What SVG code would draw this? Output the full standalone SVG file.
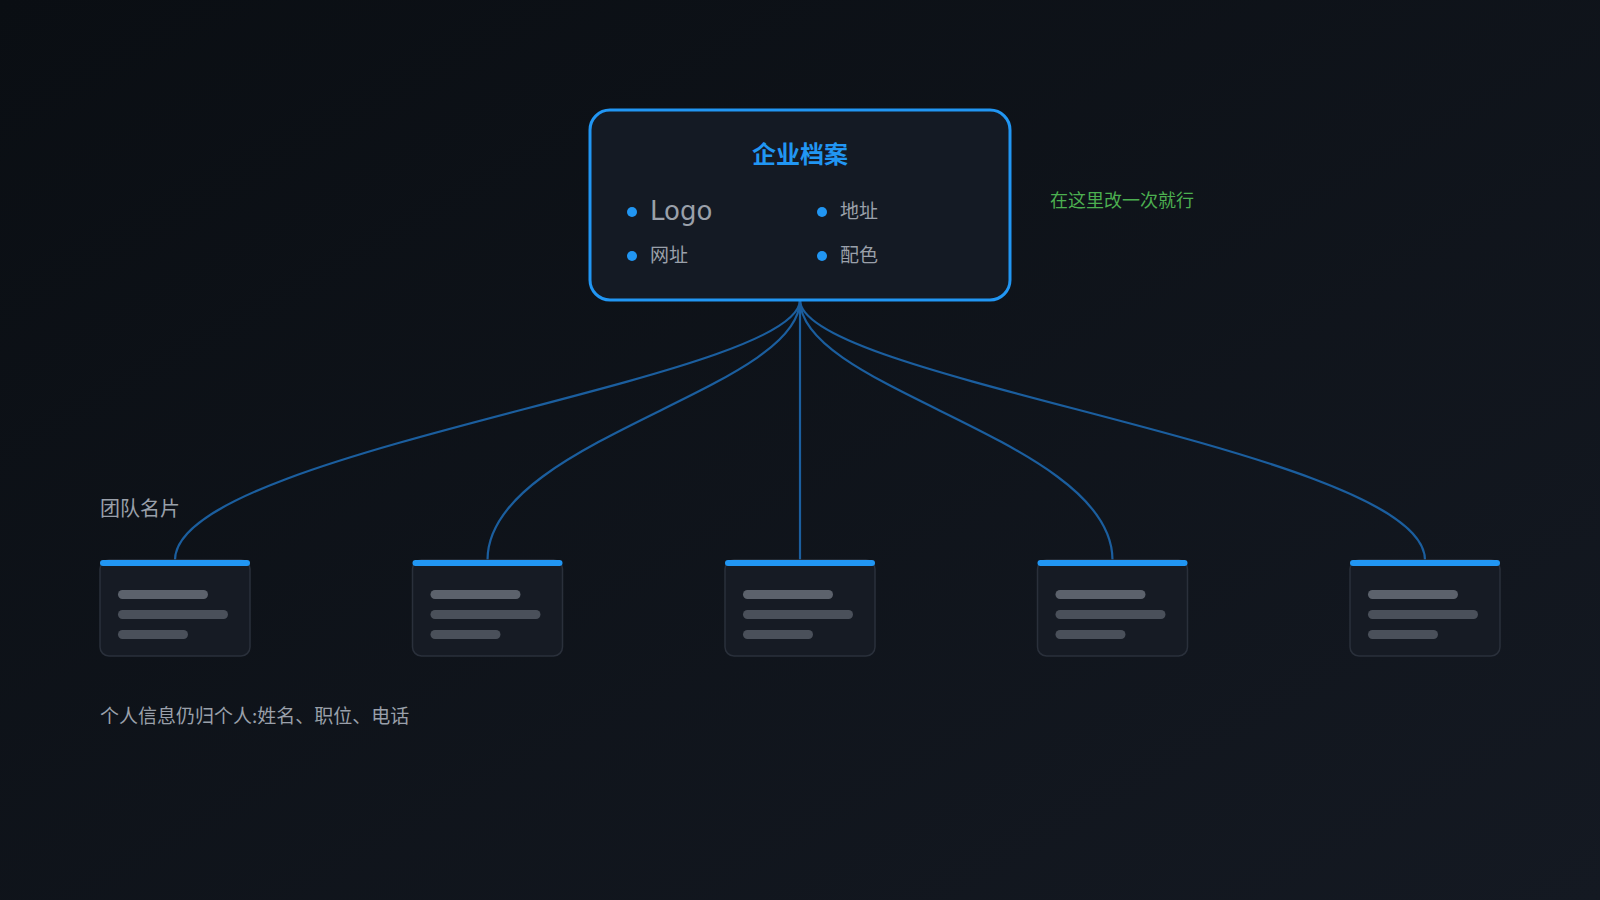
<svg xmlns="http://www.w3.org/2000/svg" width="1600" height="900" viewBox="0 0 1600 900">
<defs>
<linearGradient id="bg" x1="0" y1="0" x2="1" y2="1">
<stop offset="0" stop-color="#0a0e13"/>
<stop offset="1" stop-color="#141922"/>
</linearGradient>
<style>
.cjk{font-family:"Noto Sans CJK SC","DejaVu Sans",sans-serif}
.lat{font-family:"DejaVu Sans","Noto Sans CJK SC",sans-serif}
.item{fill:#9aa0aa}
.dot{fill:#2196f3}
.link{fill:none;stroke:#1b5e9e;stroke-width:2.2}
.card{fill:#161b24;stroke:#2a303b;stroke-width:1.5}
.bar{fill:#2196f3}
.l1{fill:#5c626c}
.l2{fill:#4a505a}
.note{fill:#9aa0aa}
</style>
</defs>
<rect width="1600" height="900" fill="url(#bg)"/>
<g id="connectors">
<path class="link" d="M800 300 C800 380 175 450 175 560"/>
<path class="link" d="M800 300 C800 390 487.5 440 487.5 560"/>
<path class="link" d="M800 300 L800 560"/>
<path class="link" d="M800 300 C800 390 1112.5 440 1112.5 560"/>
<path class="link" d="M800 300 C800 380 1425 450 1425 560"/>
</g>
<g id="root">
<rect x="590" y="110" width="420" height="190" rx="20" fill="#141a24" stroke="#2196f3" stroke-width="3"/>
<text x="800" y="163" text-anchor="middle" class="cjk" font-size="24" font-weight="bold" fill="#2196f3">企业档案</text>
<circle class="dot" cx="632" cy="212" r="5"/>
<text x="650" y="220" class="lat item" font-size="26">Logo</text>
<circle class="dot" cx="822" cy="212" r="5"/>
<text x="840" y="218" class="cjk item" font-size="19">地址</text>
<circle class="dot" cx="632" cy="256" r="5"/>
<text x="650" y="262" class="cjk item" font-size="19">网址</text>
<circle class="dot" cx="822" cy="256" r="5"/>
<text x="840" y="262" class="cjk item" font-size="19">配色</text>
</g>
<g id="tip">
<text x="1050" y="207" class="cjk" font-size="18" fill="#4caf50">在这里改一次就行</text>
</g>
<g id="team-label">
<text x="100" y="516" class="cjk note" font-size="20">团队名片</text>
</g>
<g id="card1">
<rect class="card" x="100" y="560" width="150" height="96" rx="9"/>
<rect class="bar" x="100" y="560" width="150" height="6" rx="3"/>
<rect class="l1" x="118" y="590" width="90" height="9" rx="4.5"/>
<rect class="l2" x="118" y="610" width="110" height="9" rx="4.5"/>
<rect class="l2" x="118" y="630" width="70" height="9" rx="4.5"/>
</g>
<g id="card2">
<rect class="card" x="412.5" y="560" width="150" height="96" rx="9"/>
<rect class="bar" x="412.5" y="560" width="150" height="6" rx="3"/>
<rect class="l1" x="430.5" y="590" width="90" height="9" rx="4.5"/>
<rect class="l2" x="430.5" y="610" width="110" height="9" rx="4.5"/>
<rect class="l2" x="430.5" y="630" width="70" height="9" rx="4.5"/>
</g>
<g id="card3">
<rect class="card" x="725" y="560" width="150" height="96" rx="9"/>
<rect class="bar" x="725" y="560" width="150" height="6" rx="3"/>
<rect class="l1" x="743" y="590" width="90" height="9" rx="4.5"/>
<rect class="l2" x="743" y="610" width="110" height="9" rx="4.5"/>
<rect class="l2" x="743" y="630" width="70" height="9" rx="4.5"/>
</g>
<g id="card4">
<rect class="card" x="1037.5" y="560" width="150" height="96" rx="9"/>
<rect class="bar" x="1037.5" y="560" width="150" height="6" rx="3"/>
<rect class="l1" x="1055.5" y="590" width="90" height="9" rx="4.5"/>
<rect class="l2" x="1055.5" y="610" width="110" height="9" rx="4.5"/>
<rect class="l2" x="1055.5" y="630" width="70" height="9" rx="4.5"/>
</g>
<g id="card5">
<rect class="card" x="1350" y="560" width="150" height="96" rx="9"/>
<rect class="bar" x="1350" y="560" width="150" height="6" rx="3"/>
<rect class="l1" x="1368" y="590" width="90" height="9" rx="4.5"/>
<rect class="l2" x="1368" y="610" width="110" height="9" rx="4.5"/>
<rect class="l2" x="1368" y="630" width="70" height="9" rx="4.5"/>
</g>
<g id="footnote">
<text x="100" y="723" class="cjk note" font-size="19">个人信息仍归个人:姓名、职位、电话</text>
</g>
</svg>
